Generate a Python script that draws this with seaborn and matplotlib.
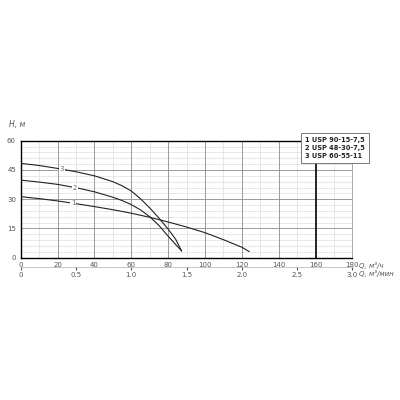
import numpy as np
import pandas as pd
import matplotlib
matplotlib.use("Agg")
import matplotlib.pyplot as plt
import seaborn as sns

# =========================
# DATA
# =========================

q1 = [0, 10, 20, 30, 40, 50, 60, 70, 80, 90, 100, 110, 120, 124]
h1 = [31.3, 30.3, 29.1, 27.7, 26.2, 24.6, 22.8, 20.7, 18.3, 15.7, 12.8, 9.2, 5.3, 3.1]

q2 = [0, 10, 20, 30, 40, 50, 55, 60, 65, 70, 75, 80, 84, 87.3]
h2 = [39.8, 38.8, 37.6, 35.9, 33.8, 31.0, 29.3, 27.2, 24.5, 21.0, 16.5, 11.0, 6.8, 3.4]

q3 = [0, 10, 20, 30, 40, 50, 55, 60, 65, 70, 75, 80, 84, 87.3]
h3 = [48.4, 47.3, 45.8, 44.1, 42.0, 39.0, 36.9, 34.2, 30.2, 25.5, 20.3, 14.6, 9.5, 3.4]

curve_labels = ["1", "2", "3"]
label_q = [28.5, 29.5, 22.3]
legend_names = ["1 USP 90-15-7,5", "2 USP 48-30-7,5", "3 USP 60-55-11"]

x_ticks = [0, 20, 40, 60, 80, 100, 120, 140, 160, 180]
y_ticks = [0, 15, 30, 45, 60]
x2_ticks = [0, 0.5, 1.0, 1.5, 2.0, 2.5, 3.0]

df = pd.concat([
    pd.DataFrame({"Q": q1, "H": h1, "curve": "1"}),
    pd.DataFrame({"Q": q2, "H": h2, "curve": "2"}),
    pd.DataFrame({"Q": q3, "H": h3, "curve": "3"}),
])

# =========================
# PLOT
# =========================

sns.set_style("white")
plt.rcParams["font.family"] = ["DejaVu Sans"]

fig = plt.figure(figsize=(4, 4), dpi=100)
ax = fig.add_axes([0.052, 0.356, 0.829, 0.292])

# grid: minor first, major on top
for x in range(0, 181, 10):
    if x % 20 != 0:
        ax.axvline(x, color="#dddddd", lw=0.5, zorder=1)
for y in range(0, 61, 3):
    if y % 15 != 0:
        ax.axhline(y, color="#dedede", lw=0.5, zorder=1)
for x in range(20, 181, 20):
    if x == 160:
        ax.axvline(x, color="black", lw=1.2, zorder=2.5)
    else:
        ax.axvline(x, color="#8a8a8a", lw=0.6, zorder=2)
for y in range(15, 61, 15):
    ax.axhline(y, color="#8a8a8a", lw=0.6, zorder=2)

sns.lineplot(data=df, x="Q", y="H", hue="curve", units="curve", estimator=None,
             palette=["#222222"] * 3, lw=0.8, legend=False, sort=False, ax=ax, zorder=3)

# curve numbers sitting on the lines
for qs, hs, lab, ql in zip([q1, q2, q3], [h1, h2, h3], curve_labels, label_q):
    hl = np.interp(ql, qs, hs)
    ax.text(ql, hl, lab, fontsize=5, color="#6a6a6a", ha="center", va="center",
            bbox=dict(facecolor="white", edgecolor="none", pad=0.5), zorder=4)

ax.set_xlim(0, 180)
ax.set_ylim(0, 60)
ax.set_xticks(x_ticks)
ax.set_yticks(y_ticks)
ax.tick_params(labelsize=5, colors="#555555", length=2, pad=1.5)
ax.set_xlabel("")
ax.set_ylabel("")

for s in ["left", "top", "bottom"]:
    ax.spines[s].set_color("black")
    ax.spines[s].set_linewidth(1.0)
ax.spines["right"].set_color("#999999")
ax.spines["right"].set_linewidth(0.6)

# second axis in m3/min
sec = ax.secondary_xaxis(-0.08, functions=(lambda q: q / 60.0, lambda m: m * 60.0))
sec.set_xticks(x2_ticks)
sec.set_xticklabels(["0", "0.5", "1.0", "1.5", "2.0", "2.5", "3.0"])
sec.tick_params(labelsize=5, colors="#555555", length=2, pad=1.5)
sec.spines["bottom"].set_color("#bbbbbb")
sec.spines["bottom"].set_linewidth(0.6)

# axis titles
fig.text(0.022, 0.682, "H, м", fontsize=5.5, style="italic", color="#555555")
fig.text(0.897, 0.337, "Q, м³/ч", fontsize=5, style="italic", color="#555555", va="center")
fig.text(0.897, 0.316, "Q, м³/мин", fontsize=5, style="italic", color="#555555", va="center")

# legend box
fig.text(0.763, 0.630, "\n".join(legend_names), fontsize=4.8, color="#222222",
         fontweight="bold", va="center", ha="left", linespacing=1.45,
         bbox=dict(facecolor="white", edgecolor="#777777", lw=0.7,
                   boxstyle="square,pad=0.6"), zorder=5)

plt.savefig("out.png", dpi=100)
